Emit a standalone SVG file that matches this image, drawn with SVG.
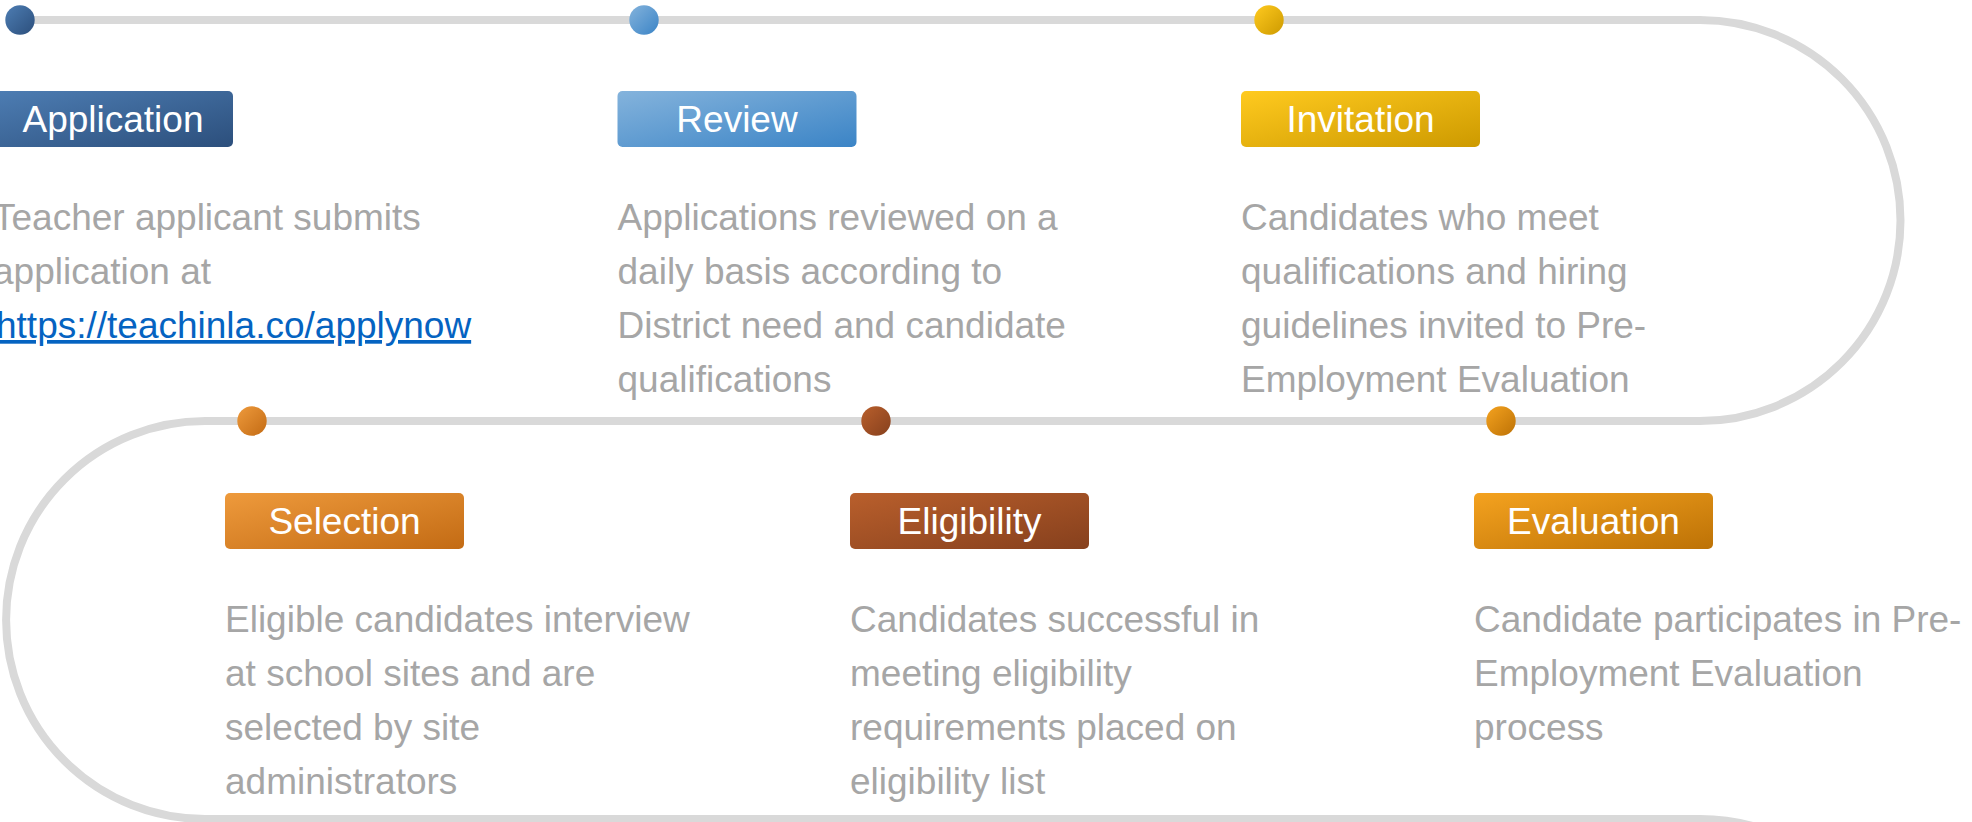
<svg xmlns="http://www.w3.org/2000/svg" width="1972" height="822" viewBox="0 0 1972 822">
<defs>
<linearGradient id="gBlue" x1="0" y1="0" x2="1" y2="1"><stop offset="0" stop-color="#4d7db3"/><stop offset="1" stop-color="#2c4f7c"/></linearGradient>
<linearGradient id="gLight" x1="0" y1="0" x2="1" y2="1"><stop offset="0" stop-color="#84b3dc"/><stop offset="1" stop-color="#3b84c6"/></linearGradient>
<linearGradient id="gYellow" x1="0" y1="0" x2="1" y2="1"><stop offset="0" stop-color="#ffca1f"/><stop offset="1" stop-color="#cd9a00"/></linearGradient>
<linearGradient id="gOrange" x1="0" y1="0" x2="1" y2="1"><stop offset="0" stop-color="#ee9a3c"/><stop offset="1" stop-color="#c36b14"/></linearGradient>
<linearGradient id="gBrown" x1="0" y1="0" x2="1" y2="1"><stop offset="0" stop-color="#b95f2c"/><stop offset="1" stop-color="#86401d"/></linearGradient>
<linearGradient id="gAmber" x1="0" y1="0" x2="1" y2="1"><stop offset="0" stop-color="#f4a21f"/><stop offset="1" stop-color="#bd7206"/></linearGradient>
</defs>
<style>
.track{fill:none;stroke:#d9d9d9;stroke-width:8}
.lbl{font-family:"Liberation Sans",Arial,sans-serif;font-size:37px;fill:#ffffff;text-anchor:middle}
.desc{font-family:"Liberation Sans",Arial,sans-serif;font-size:37px;fill:#a6a6a6}
.link{fill:#0563c1;text-decoration:underline}
</style>
<rect width="1972" height="822" fill="#ffffff"/>
<g id="connectors">
<path class="track" d="M 20 20 H 1700 A 200.5 200.5 0 0 1 1700 421 H 205 A 199 199 0 0 0 205 819 H 1700 A 200.5 200.5 0 0 1 1900.5 1019.5"/>
</g>
<g id="application">
<circle cx="20" cy="20" r="14.7" fill="url(#gBlue)"/>
<rect x="-6" y="91" width="239" height="56" rx="5" fill="url(#gBlue)"/>
<text class="lbl" x="113" y="132">Application</text>
<text class="desc" x="-7" y="230">Teacher applicant submits</text>
<text class="desc" x="-7" y="284">application at</text>
<text class="desc link" x="-4" y="338">https://teachinla.co/applynow</text>
</g>
<g id="review">
<circle cx="644" cy="20" r="14.7" fill="url(#gLight)"/>
<rect x="617.5" y="91" width="239" height="56" rx="5" fill="url(#gLight)"/>
<text class="lbl" x="737" y="132">Review</text>
<text class="desc" x="617.5" y="230">Applications reviewed on a</text>
<text class="desc" x="617.5" y="284">daily basis according to</text>
<text class="desc" x="617.5" y="338">District need and candidate</text>
<text class="desc" x="617.5" y="392">qualifications</text>
</g>
<g id="invitation">
<circle cx="1269" cy="20" r="14.7" fill="url(#gYellow)"/>
<rect x="1241" y="91" width="239" height="56" rx="5" fill="url(#gYellow)"/>
<text class="lbl" x="1360.5" y="132">Invitation</text>
<text class="desc" x="1241" y="230">Candidates who meet</text>
<text class="desc" x="1241" y="284">qualifications and hiring</text>
<text class="desc" x="1241" y="338">guidelines invited to Pre-</text>
<text class="desc" x="1241" y="392">Employment Evaluation</text>
</g>
<g id="selection">
<circle cx="252" cy="421" r="14.7" fill="url(#gOrange)"/>
<rect x="225" y="493" width="239" height="56" rx="5" fill="url(#gOrange)"/>
<text class="lbl" x="344.5" y="534">Selection</text>
<text class="desc" x="225" y="632">Eligible candidates interview</text>
<text class="desc" x="225" y="686">at school sites and are</text>
<text class="desc" x="225" y="740">selected by site</text>
<text class="desc" x="225" y="794">administrators</text>
</g>
<g id="eligibility">
<circle cx="876" cy="421" r="14.7" fill="url(#gBrown)"/>
<rect x="850" y="493" width="239" height="56" rx="5" fill="url(#gBrown)"/>
<text class="lbl" x="969.5" y="534">Eligibility</text>
<text class="desc" x="850" y="632">Candidates successful in</text>
<text class="desc" x="850" y="686">meeting eligibility</text>
<text class="desc" x="850" y="740">requirements placed on</text>
<text class="desc" x="850" y="794">eligibility list</text>
</g>
<g id="evaluation">
<circle cx="1501" cy="421" r="14.7" fill="url(#gAmber)"/>
<rect x="1474" y="493" width="239" height="56" rx="5" fill="url(#gAmber)"/>
<text class="lbl" x="1593.5" y="534">Evaluation</text>
<text class="desc" x="1474" y="632">Candidate participates in Pre-</text>
<text class="desc" x="1474" y="686">Employment Evaluation</text>
<text class="desc" x="1474" y="740">process</text>
</g>
</svg>
